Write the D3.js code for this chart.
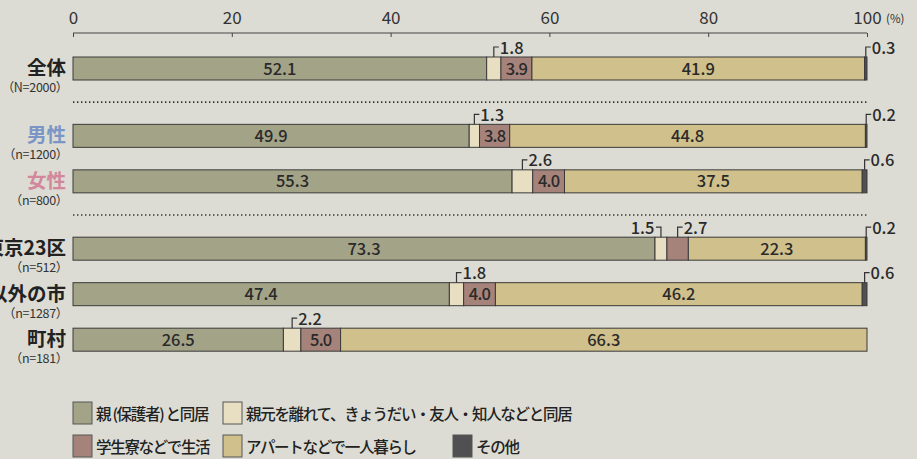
<!DOCTYPE html>
<html>
<head>
<meta charset="utf-8">
<script src="https://cdn.jsdelivr.net/npm/d3@7"></script>
<style>
  body { margin: 0; background: #dcdcd4; }
  svg { display: block; font-family: "Noto Sans CJK JP", "Noto Sans", sans-serif; }
</style>
</head>
<body>
<svg id="chart" width="917" height="459"></svg>
<script>
// rows of the chart
var categories = ["全体", "男性", "女性", "東京23区", "東京23区以外の市", "町村"];
var sampleLabels = ["（N=2000）", "（n=1200）", "（n=800）", "（n=512）", "（n=1287）", "（n=181）"];
var groups = [0, 1, 1, 2, 2, 2];

var seriesNames = ["親 (保護者) と同居", "親元を離れて、きょうだい・友人・知人などと同居", "学生寮などで生活", "アパートなどで一人暮らし", "その他"];
var withParents  = [52.1, 49.9, 55.3, 73.3, 47.4, 26.5];
var withOthers   = [1.8, 1.3, 2.6, 1.5, 1.8, 2.2];
var dormitory    = [3.9, 3.8, 4.0, 2.7, 4.0, 5.0];
var alone        = [41.9, 44.8, 37.5, 22.3, 46.2, 66.3];
var other        = [0.3, 0.2, 0.6, 0.2, 0.6, 0];
var series = [withParents, withOthers, dormitory, alone, other];

var ticks = [0, 20, 40, 60, 80, 100];
var colors = ["#a3a388", "#e8dfc3", "#a6837a", "#d0c08b", "#505052"];
var labelColors = ["#222", "#7b95c6", "#d3879b", "#222", "#222", "#222"];

var svg = d3.select("#chart");
var x = d3.scaleLinear().domain([0, 100]).range([73, 867]);
var gap = 0.48;
var y = d3.scaleLinear().domain([0, 1]).range([57, 102.5]);
var barH = 23;
function rowY(i) { return y(i + groups[i] * gap); }

// axis on top
var axis = d3.axisTop(x).tickValues(ticks).tickSize(-4).tickSizeOuter(0);
var ax = svg.append("g").attr("transform", "translate(0,33)").call(axis);
ax.attr("font-size", null).attr("font-family", null);
ax.select(".domain").attr("stroke", "#444").attr("d", "M73,0H867");
ax.selectAll(".tick line").attr("stroke", "#444");
ax.selectAll(".tick text").attr("y", -9).attr("dy", 0).attr("fill", "#333")
  .style("font-size", "17px");
svg.append("text").attr("x", x(100) + 19).attr("y", 23).style("font-size", "11.5px")
  .attr("fill", "#333").text("(%)");

// dotted separators between groups
for (var i = 1; i < categories.length; i++) {
  if (groups[i] != groups[i - 1]) {
    var sy = (rowY(i - 1) + barH + rowY(i)) / 2;
    svg.append("line").attr("x1", x(0)).attr("x2", x(100)).attr("y1", sy).attr("y2", sy)
      .attr("stroke", "#333").attr("stroke-width", 1.6).attr("stroke-dasharray", "1.4,2.6");
  }
}

// stacked bars
categories.forEach(function(cat, i) {
  var g = svg.append("g");
  var cum = 0;
  var top = rowY(i);
  series.forEach(function(s, k) {
    var v = s[i];
    var x0 = x(cum), x1 = x(cum + v);
    cum += v;
    if (v <= 0) return;
    g.append("rect").attr("x", x0).attr("y", top).attr("width", x1 - x0).attr("height", barH)
      .attr("fill", colors[k]).attr("stroke", "#3a3a3a").attr("stroke-width", 1);
    var cx = (x0 + x1) / 2;
    if (v >= 3) {
      g.append("text").attr("x", cx).attr("y", top + barH / 2 + 6).attr("text-anchor", "middle")
        .style("font-size", "16.5px").attr("font-weight", 500).attr("fill", "#2a2a2a")
        .attr("letter-spacing", v < 10 ? -0.8 : 0).text(v.toFixed(1));
    } else {
      // small value above with bracket
      var leftSide = (k == 1 && series[2][i] < 3);
      var hx = leftSide ? cx - 5 : cx + 5;
      g.append("path").attr("d", "M" + cx + "," + top + "V" + (top - 10) + "H" + hx)
        .attr("fill", "none").attr("stroke", "#333").attr("stroke-width", 1.2);
      g.append("text").attr("x", leftSide ? hx - 1.5 : hx + 1).attr("y", top - 3.5)
        .attr("text-anchor", leftSide ? "end" : "start")
        .style("font-size", "16.5px").attr("font-weight", 500).attr("fill", "#2a2a2a").text(v.toFixed(1));
    }
  });
  svg.append("text").attr("x", 66).attr("y", top + barH / 2 + 6.5).attr("text-anchor", "end")
    .style("font-size", "19.5px").attr("font-weight", 700).attr("fill", labelColors[i]).text(cat);
  svg.append("text").attr("x", 68).attr("y", top + barH + 12).attr("text-anchor", "end")
    .style("font-size", "12.5px").attr("fill", "#333").attr("letter-spacing", -0.3).text(sampleLabels[i]);
});

// legend
var legendPos = [[73, 402], [223, 402], [73, 435], [223, 435], [453, 435]];
seriesNames.forEach(function(name, k) {
  var p = legendPos[k];
  svg.append("rect").attr("x", p[0]).attr("y", p[1]).attr("width", 19).attr("height", 22)
    .attr("fill", colors[k]).attr("stroke", "#555").attr("stroke-width", 1);
  svg.append("text").attr("x", p[0] + 23).attr("y", p[1] + 17.5).style("font-size", "15.5px")
    .attr("letter-spacing", -1.3).attr("font-weight", 500).attr("fill", "#222").text(name);
});
</script>
</body>
</html>
